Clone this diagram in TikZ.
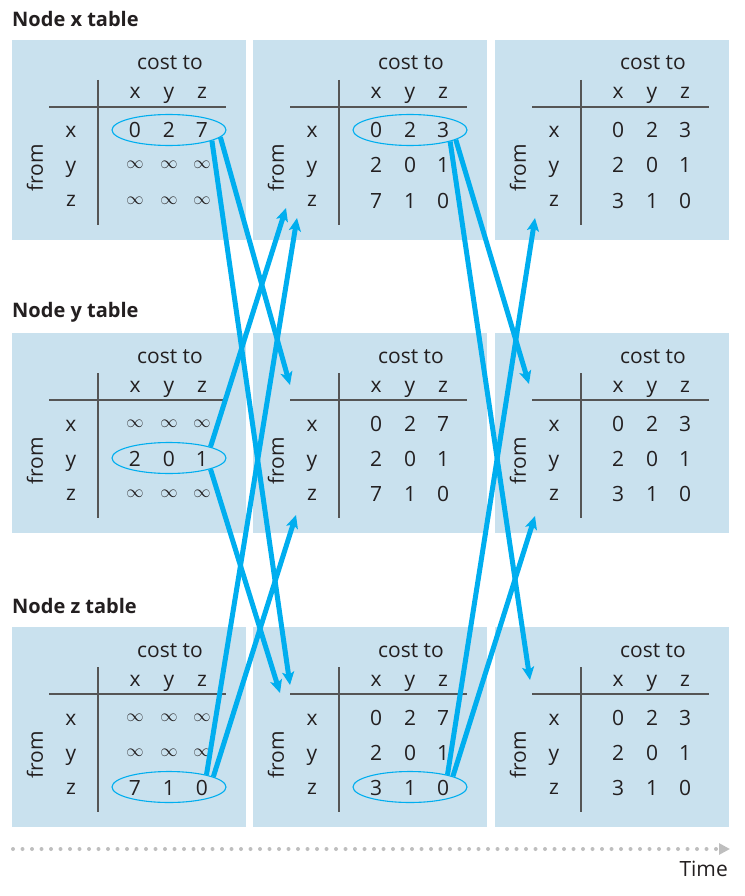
\documentclass[tikz,border=0pt]{standalone}
\usepackage{fontspec}
\setmainfont{Open Sans}
\usetikzlibrary{arrows.meta,shapes.geometric}

\definecolor{panelblue}{RGB}{201,225,238}
\definecolor{msgblue}{RGB}{0,174,239}
\definecolor{ink}{RGB}{35,31,32}
\definecolor{rulegray}{RGB}{85,85,85}
\definecolor{dotgray}{RGB}{190,190,190}

\newcommand{\oo}{\raisebox{4pt}{\fontsize{16}{16}\selectfont$\infty$}}

\begin{document}
\begin{tikzpicture}[x=1pt,y=-1pt,
    txt/.style={text=ink,font=\fontsize{21}{24}\selectfont,inner sep=1pt,anchor=base},
    title/.style={text=ink,font=\fontsize{20}{24}\selectfont\bfseries,inner sep=0pt,anchor=west},
    tabrule/.style={rulegray,line width=1.2pt},
    ring/.style={draw=msgblue,line width=1.1pt,ellipse,minimum width=114pt,minimum height=31pt,inner sep=0pt},
    msg/.style={msgblue,line width=5pt,-{Stealth[length=13pt,width=12pt,inset=3pt]}},
    timeline/.style={dotgray,line width=4pt,line cap=round,dash pattern=on 0pt off 9.5pt,-{Triangle[length=11pt,width=11pt]}}]
    \useasboundingbox (0,0) rectangle (744,896);

    % the nine tables
    \foreach \col/\dx in {1/0,2/241,3/483}
      \foreach \row/\dy in {x/0,y/293,z/587}{
        \begin{scope}[shift={(\dx,\dy)}]
          \coordinate (\row\col) at (0,0);
          \fill[panelblue] (12,40) rectangle (246,240);
          \node[txt] (\row\col-cost) at (170,70) {cost to};
          \node[txt] (\row\col-hx) at (135,99) {x};
          \node[txt] (\row\col-hy) at (169,99) {y};
          \node[txt] (\row\col-hz) at (202,99) {z};
          \node[txt] (\row\col-rx) at (71,138) {x};
          \node[txt] (\row\col-ry) at (71,173) {y};
          \node[txt] (\row\col-rz) at (71,207) {z};
          \node[txt,rotate=90,anchor=center] (\row\col-from) at (35,168) {from};
          \draw[tabrule] (49,107) -- (226,107);
          \draw[tabrule] (98,80) -- (98,225);
        \end{scope}
      }

    % table entries
    \foreach \t/\r/\a/\b/\c in {
        x1/1/0/2/7, x1/2/\oo/\oo/\oo, x1/3/\oo/\oo/\oo,
        y1/1/\oo/\oo/\oo, y1/2/2/0/1, y1/3/\oo/\oo/\oo,
        z1/1/\oo/\oo/\oo, z1/2/\oo/\oo/\oo, z1/3/7/1/0,
        x2/1/0/2/3, x2/2/2/0/1, x2/3/7/1/0,
        y2/1/0/2/7, y2/2/2/0/1, y2/3/7/1/0,
        z2/1/0/2/7, z2/2/2/0/1, z2/3/3/1/0,
        x3/1/0/2/3, x3/2/2/0/1, x3/3/3/1/0,
        y3/1/0/2/3, y3/2/2/0/1, y3/3/3/1/0,
        z3/1/0/2/3, z3/2/2/0/1, z3/3/3/1/0}{
      \node[txt] (\t-\r-a) at ([shift={(135,103+35*\r)}]\t) {\a};
      \node[txt] (\t-\r-b) at ([shift={(169,103+35*\r)}]\t) {\b};
      \node[txt] (\t-\r-c) at ([shift={(202,103+35*\r)}]\t) {\c};
    }

    % rows that are sent
    \node[ring] (x1-ring) at ([shift={(0,-8)}]x1-1-b.base) {};
    \node[ring] (y1-ring) at ([shift={(0,-8)}]y1-2-b.base) {};
    \node[ring] (z1-ring) at ([shift={(0,-8)}]z1-3-b.base) {};
    \node[ring] (x2-ring) at ([shift={(0,-8)}]x2-1-b.base) {};
    \node[ring] (z2-ring) at ([shift={(0,-8)}]z2-3-b.base) {};

    % where the messages arrive
    \coordinate (x2-in1) at ([shift={(45,208)}]x2);
    \coordinate (x2-in2) at ([shift={(56,218)}]x2);
    \coordinate (y2-in1) at ([shift={(49,92)}]y2);
    \coordinate (y2-in2) at ([shift={(55,222)}]y2);
    \coordinate (z2-in1) at ([shift={(49,98)}]z2);
    \coordinate (z2-in2) at ([shift={(39,106)}]z2);
    \coordinate (x3-in) at ([shift={(52,218)}]x3);
    \coordinate (y3-in1) at ([shift={(46,91)}]y3);
    \coordinate (y3-in2) at ([shift={(52,223)}]y3);
    \coordinate (z3-in) at ([shift={(47,93)}]z3);

    \draw[msg] (x1-ring.-8) -- (y2-in1);
    \draw[msg] (x1-ring.-14) -- (z2-in1);
    \draw[msg] (y1-ring.15) -- (x2-in1);
    \draw[msg] (y1-ring.-15) -- (z2-in2);
    \draw[msg] (z1-ring.18) -- (x2-in2);
    \draw[msg] (z1-ring.13) -- (y2-in2);
    \draw[msg] (x2-ring.-12) -- (y3-in1);
    \draw[msg] (x2-ring.-16) -- (z3-in);
    \draw[msg] (z2-ring.18) -- (x3-in);
    \draw[msg] (z2-ring.14) -- (y3-in2);

    \node[title] (xtitle) at (12,19) {Node x table};
    \node[title] (ytitle) at (12,312) {Node y table};
    \node[title] (ztitle) at (12,606) {Node z table};

    % time axis
    \coordinate (tstart) at (13,849);
    \coordinate (tend) at (730,849);
    \draw[timeline] (tstart) -- (tend);
    \node[txt,anchor=base east] (time) at (729,876) {Time};
\end{tikzpicture}
\end{document}
